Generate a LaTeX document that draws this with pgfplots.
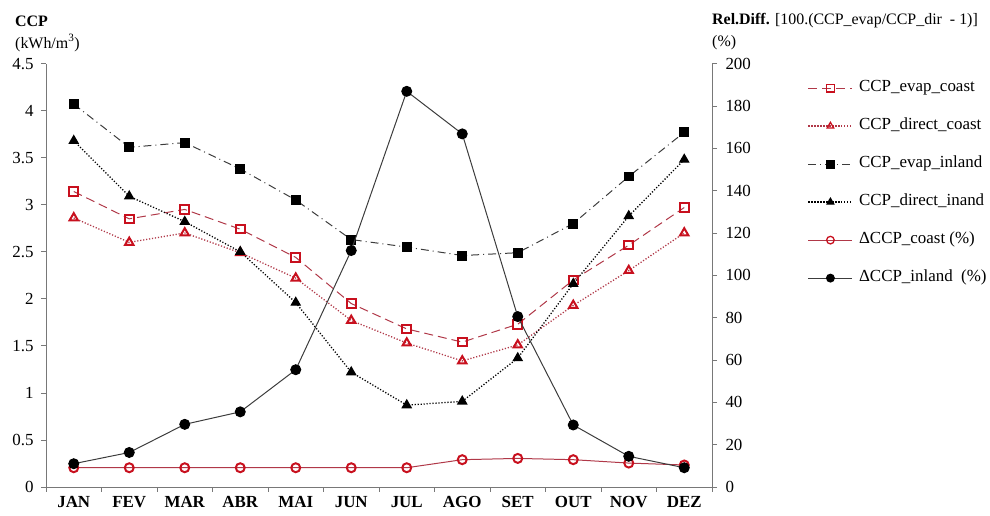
\documentclass[border=0pt]{standalone}
\usepackage{fontspec}
\setmainfont{Liberation Serif}
\usepackage{pgfplots}
\usepackage{pgfplotstable}
\pgfplotsset{compat=1.18}

\definecolor{markred}{RGB}{200,16,30}
\definecolor{linered}{RGB}{176,56,72}
\definecolor{axisgray}{RGB}{120,120,120}
\definecolor{inlandline}{RGB}{60,60,60}

% monthly values: CCP (kWh/m3) and relative difference (%)
\pgfplotstableread{
m evapC dirC evapI dirI dC dI
0 3.14 2.86 4.07 3.68 9.1 11.0
1 2.85 2.60 3.61 3.09 9.1 16.3
2 2.95 2.70 3.66 2.82 9.1 29.6
3 2.74 2.49 3.38 2.50 9.1 35.5
4 2.44 2.22 3.05 1.96 9.1 55.4
5 1.95 1.77 2.63 1.22 9.1 111.7
6 1.68 1.53 2.55 0.87 9.1 186.9
7 1.54 1.34 2.46 0.91 12.9 166.8
8 1.73 1.51 2.49 1.37 13.5 80.5
9 2.20 1.93 2.80 2.16 12.9 29.3
10 2.57 2.30 3.30 2.88 11.3 14.5
11 2.97 2.70 3.77 3.48 10.4 9.1
}\ccp

\newcommand{\bigfont}{\fontsize{16}{18}\selectfont}
\newcommand{\tickfont}{\fontsize{17}{19}\selectfont}

\pgfplotsset{
  evapcoast/.style={color=linered, line width=1pt, dash pattern=on 9pt off 5pt,
    mark=square, mark size=4.3pt, mark options={solid, draw=markred, fill=white, line width=2pt}},
  dircoast/.style={color=linered, line width=1.3pt, dash pattern=on 1.2pt off 1.8pt,
    mark=triangle, mark size=4.8pt, mark options={solid, draw=markred, fill=white, line width=2pt}},
  evapinland/.style={color=inlandline, line width=1pt, dash pattern=on 8pt off 4pt on 1pt off 4pt,
    mark=square*, mark size=4.5pt, mark options={solid, draw=black, fill=black}},
  dirinland/.style={color=black, line width=1.3pt, dash pattern=on 1.2pt off 1.8pt,
    mark=triangle*, mark size=5pt, mark options={solid, draw=black, fill=black}},
  dcoast/.style={color=linered, line width=1pt, solid,
    mark=o, mark size=4.5pt, mark options={draw=markred, fill=white, line width=2pt}},
  dinland/.style={color=inlandline, line width=1pt, solid,
    mark=*, mark size=5pt, mark options={draw=black, fill=black}},
  common/.style={
    at={(0,0)}, anchor=south west,
    scale only axis, width=666bp, height=423.4bp,
    xmin=-0.5, xmax=11.5,
    axis line style={axisgray, line width=0.8pt},
    tick style={axisgray, line width=0.8pt},
    tick align=outside,
    major tick length=5bp,
    minor tick length=5bp,
    every tick label/.append style={font=\tickfont},
    /pgf/number format/assume math mode=true,
    clip=false,
  },
}

\begin{document}
\begin{tikzpicture}
\useasboundingbox (-46bp,-29bp) rectangle (944bp,487bp);

\begin{axis}[common,
  axis x line*=bottom, axis y line*=left,
  ymin=0, ymax=4.5, ytick={0,0.5,1,1.5,2,2.5,3,3.5,4,4.5},
  yticklabels={0,0.5,1,1.5,2,2.5,3,3.5,4,4.5},
  yticklabel style={xshift=-4bp},
  xtick={0,...,11},
  xticklabels={JAN,FEV,MAR,ABR,MAI,JUN,JUL,AGO,SET,OUT,NOV,DEZ},
  xticklabel style={font=\tickfont\bfseries, yshift=-1bp},
  major x tick style={draw=none},
  minor xtick={-0.5,0.5,...,11.5},
]
\addplot[evapcoast] table[x=m, y=evapC] {\ccp};
\addplot[dircoast] table[x=m, y=dirC] {\ccp};
\addplot[evapinland] table[x=m, y=evapI] {\ccp};
\addplot[dirinland] table[x=m, y=dirI] {\ccp};
\end{axis}

\begin{axis}[common,
  axis x line=none, axis y line*=right,
  ymin=0, ymax=200, ytick={0,20,...,200},
  yticklabel style={xshift=5bp},
  legend style={draw=none, fill=none, at={(1.139,0.965)}, anchor=north west,
    font=\tickfont, row sep=23bp, column sep=6bp,
    nodes={inner sep=0pt, text height=11bp, text depth=4bp}},
  legend cell align=left,
  legend image code/.code={%
    \draw[mark repeat=2, mark phase=2, mark size=3.8pt,
      every mark/.append style={line width=1.3pt}]
      plot coordinates {(0bp,0bp) (22bp,0bp) (44bp,0bp)};},
]
\addlegendimage{evapcoast}
\addlegendentry{CCP\_evap\_coast}
\addlegendimage{dircoast}
\addlegendentry{CCP\_direct\_coast}
\addlegendimage{evapinland}
\addlegendentry{CCP\_evap\_inland}
\addlegendimage{dirinland}
\addlegendentry{CCP\_direct\_inand}
\addplot[dcoast] table[x=m, y=dC] {\ccp};
\addlegendentry{ΔCCP\_coast (\%)}
\addplot[dinland] table[x=m, y=dI] {\ccp};
\addlegendentry{ΔCCP\_inland\ \ (\%)}
\end{axis}

% axis titles
\node[anchor=west, inner sep=0pt, font=\bigfont\bfseries] at (-31bp,466bp) {CCP};
\node[anchor=west, inner sep=0pt, font=\bigfont] at (-31bp,444bp) {(kWh/m\textsuperscript{3})};
\node[anchor=west, inner sep=0pt, font=\bigfont] at (666bp,466bp)
  {\textbf{Rel.Diff.} [100.(CCP\_evap/CCP\_dir\ \ - 1)]};
\node[anchor=west, inner sep=0pt, font=\bigfont] at (666bp,444bp) {(\%)};
\end{tikzpicture}
\end{document}
